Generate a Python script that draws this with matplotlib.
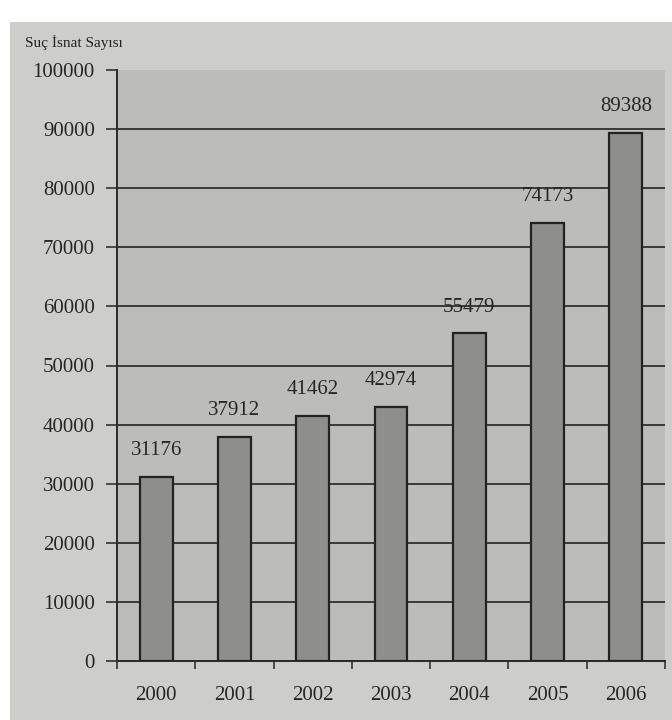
import numpy as np
import matplotlib
matplotlib.use("Agg")
import matplotlib.pyplot as plt
from matplotlib.patches import Rectangle

# data
years = ["2000", "2001", "2002", "2003", "2004", "2005", "2006"]
counts = [31176, 37912, 41462, 42974, 55479, 74173, 89388]
yticks = [0, 10000, 20000, 30000, 40000, 50000, 60000, 70000, 80000, 90000, 100000]
ylabel_text = "Suç İsnat Sayısı"

plt.rcParams["font.family"] = ["Liberation Serif", "DejaVu Serif"]

paper = "#cdcdc9"
plot_bg = "#bcbcbb"
bar_col = "#8e8e8d"
ink = "#262626"

fig = plt.figure(figsize=(6.72, 7.2), dpi=100, facecolor="white")
# paper area (photo has a white strip on top and left)
fig.patches.append(Rectangle((10 / 672, 0), 1, 1 - 22 / 720, transform=fig.transFigure,
                             facecolor=paper, edgecolor="none", zorder=-10))

ax = fig.add_axes([117 / 672, 1 - 661 / 720, (665 - 117) / 672, (661 - 70) / 720])
ax.set_facecolor(plot_bg)

x = np.arange(len(years))
ax.bar(x, counts, width=0.42, color=bar_col, edgecolor="#222222", linewidth=1.6, zorder=3)

for xi, v in zip(x, counts):
    ax.text(xi, v + 2800, str(v), ha="center", va="bottom", fontsize=15, color=ink)

ax.set_xlim(-0.5, len(years) - 0.5)
ax.set_ylim(0, 100000)
ax.set_yticks(yticks)
ax.set_yticklabels([str(t) for t in yticks], fontsize=15, color=ink)
ax.yaxis.grid(True, color="#3a3a3a", linewidth=1.4, zorder=1)
ax.get_ygridlines()[-1].set_visible(False)
ax.set_axisbelow(True)

ax.set_xticks(x)
ax.set_xticklabels(years, fontsize=15, color=ink)
ax.tick_params(axis="x", length=0, pad=18)
ax.set_xticks(np.arange(-0.5, len(years)), minor=True)
ax.tick_params(axis="x", which="minor", length=6, width=1.2, color="#333333", direction="out")
ax.tick_params(axis="y", length=8, width=1.2, color="#333333", pad=8)

for s in ["top", "right"]:
    ax.spines[s].set_visible(False)
ax.spines["left"].set_color("#2a2a2a")
ax.spines["left"].set_linewidth(1.4)
ax.spines["bottom"].set_color("#2a2a2a")
ax.spines["bottom"].set_linewidth(1.4)

fig.text(25 / 672, 1 - 42 / 720, ylabel_text, fontsize=11, color="#222222", va="center")

fig.savefig("out.png", dpi=100, facecolor=fig.get_facecolor())
